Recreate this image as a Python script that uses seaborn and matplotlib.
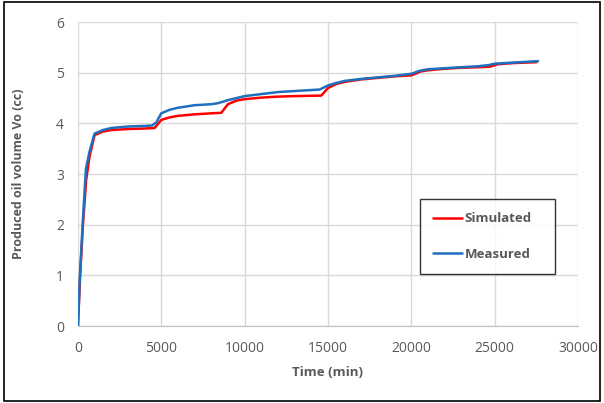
import numpy as np
import pandas as pd
import seaborn as sns
import matplotlib.pyplot as plt
from matplotlib.patches import Rectangle

# values
sim_time = [0, 150, 300, 500, 700, 1000, 1500, 2000, 3000, 4000, 4600, 5000, 5500, 6000,
            7000, 8000, 8600, 9000, 9500, 10000, 11000, 12000, 13000, 14600, 15000, 15500,
            16000, 17000, 18000, 19000, 20000, 20600, 21000, 22000, 23000, 24000, 24700,
            25200, 26000, 27500]
sim_vol = [0, 1.1, 2.0, 2.9, 3.35, 3.77, 3.84, 3.87, 3.89, 3.90, 3.91, 4.07, 4.12, 4.15,
           4.18, 4.20, 4.21, 4.38, 4.45, 4.48, 4.51, 4.53, 4.54, 4.55, 4.70, 4.78,
           4.82, 4.87, 4.90, 4.93, 4.95, 5.03, 5.05, 5.08, 5.10, 5.11, 5.12,
           5.17, 5.19, 5.21]

meas_time = [0, 120, 300, 480, 700, 1000, 1500, 2000, 3000, 4000, 4450, 4700, 5000, 5500,
             6000, 7000, 8000, 8400, 9000, 10000, 11000, 12000, 13000, 14500, 15000, 15500,
             16000, 17000, 18000, 19000, 20000, 20500, 21000, 22000, 23000, 24000, 24600,
             25000, 26000, 27600]
meas_vol = [0, 1.0, 2.1, 3.1, 3.45, 3.80, 3.87, 3.91, 3.94, 3.95, 3.96, 4.02, 4.20, 4.27,
            4.31, 4.36, 4.38, 4.40, 4.46, 4.54, 4.58, 4.62, 4.64, 4.67, 4.75, 4.80,
            4.84, 4.88, 4.91, 4.94, 4.98, 5.04, 5.07, 5.09, 5.11, 5.13, 5.15,
            5.18, 5.20, 5.23]

df = pd.concat([
    pd.DataFrame({'time': sim_time, 'vol': sim_vol, 'series': 'Simulated'}),
    pd.DataFrame({'time': meas_time, 'vol': meas_vol, 'series': 'Measured'}),
])

sns.set_style('white')
plt.rcParams['font.family'] = ['Open Sans', 'DejaVu Sans']
gray = '#595959'

fig = plt.figure(figsize=(6.04, 4.03), dpi=100)
ax = fig.add_axes([0.129, 0.191, 0.828, 0.754])

sns.lineplot(data=df, x='time', y='vol', hue='series', sort=False,
             palette={'Simulated': '#ff0000', 'Measured': '#1f6fbf'},
             linewidth=1.8, ax=ax)

ax.set_xlim(0, 30000)
ax.set_ylim(0, 6)
ax.set_xticks(np.arange(0, 30001, 5000))
ax.set_yticks(np.arange(0, 7, 1))
ax.grid(True, color='#d9d9d9', linewidth=1)
ax.set_axisbelow(True)
for s in ['top', 'right', 'left']:
    ax.spines[s].set_visible(False)
ax.spines['bottom'].set_color('#bfbfbf')
ax.tick_params(axis='x', length=0, labelsize=10, colors=gray, pad=11)
ax.tick_params(axis='y', length=0, labelsize=10, colors=gray, pad=10)

ax.set_xlabel('Time (min)', fontsize=9.5, fontweight='bold', color=gray, labelpad=7)
ax.set_ylabel('Produced oil volume Vo (cc)', fontsize=9, fontweight='bold', color=gray, labelpad=22)

leg = ax.legend(title=None, loc='lower left', bbox_to_anchor=(0.684, 0.171, 0.27, 0.25),
                mode='expand', borderaxespad=0, frameon=True, fancybox=False,
                labelspacing=1.7, handlelength=2.2, handletextpad=0.2, borderpad=1.0,
                fontsize=9.5)
leg.get_frame().set_edgecolor('black')
leg.get_frame().set_linewidth(1)
for t in leg.get_texts():
    t.set_color(gray)
    t.set_fontweight('bold')

fig.patches.append(Rectangle((0.006, 0.004), 0.988, 0.99, transform=fig.transFigure,
                             fill=False, edgecolor='black', linewidth=1.2))

fig.savefig('out.png', dpi=100)
